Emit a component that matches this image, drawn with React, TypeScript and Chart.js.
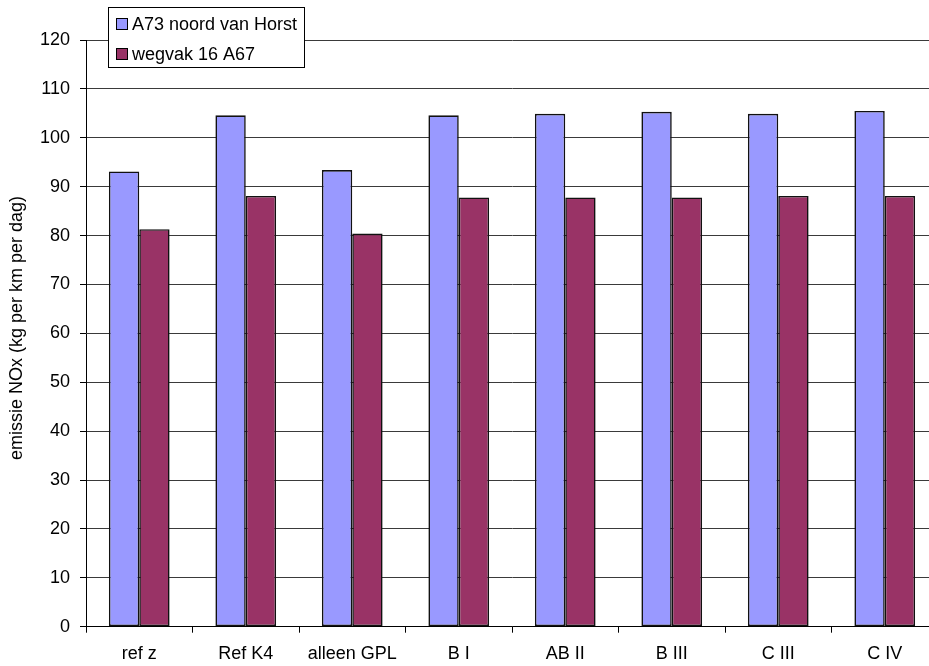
import { useEffect, useRef } from "react";
import { Chart, registerables } from "chart.js";

Chart.register(...registerables);

const FONT = "'Liberation Sans', Arial, sans-serif";

// Scenario names along the x axis
const categories = ["ref z", "Ref K4", "alleen GPL", "B I", "AB II", "B III", "C III", "C IV"];

// Series names and colours
const seriesNames = ["A73 noord van Horst", "wegvak 16 A67"];
const seriesColors = ["#9999FF", "#993366"];

// NOx emission per road section (kg per km per day)
const a73Values = [93.1, 104.6, 93.4, 104.6, 104.9, 105.3, 104.9, 105.5];
const wegvakValues = [81.3, 88.1, 80.4, 87.8, 87.8, 87.8, 88.1, 88.1];

// Value axis
const yMin = 0;
const yMax = 120;
const yStep = 10;
const yAxisTitle = "emissie NOx (kg per km per dag)";

// Draws the rotated axis title and the framed legend box over the plot
const framePlugin = {
  id: "framedLegend",
  afterDraw(chart: any) {
    const ctx: CanvasRenderingContext2D = chart.ctx;

    ctx.save();
    ctx.font = `18px ${FONT}`;
    ctx.fillStyle = "#000";
    ctx.translate(17, 328);
    ctx.rotate(-Math.PI / 2);
    ctx.textAlign = "center";
    ctx.textBaseline = "middle";
    ctx.fillText(yAxisTitle, 0, 0);
    ctx.restore();

    ctx.save();
    ctx.fillStyle = "#fff";
    ctx.fillRect(108.5, 7.5, 196, 60);
    ctx.strokeStyle = "#000";
    ctx.lineWidth = 1;
    ctx.strokeRect(108.5, 7.5, 196, 60);
    ctx.font = `18px ${FONT}`;
    chart.data.datasets.forEach((ds: any, i: number) => {
      const cy = 24 + i * 30;
      ctx.fillStyle = ds.backgroundColor;
      ctx.fillRect(116.5, cy - 5.5, 11, 11);
      ctx.strokeRect(116.5, cy - 5.5, 11, 11);
      ctx.fillStyle = "#000";
      ctx.textAlign = "left";
      ctx.textBaseline = "middle";
      ctx.fillText(ds.label, 132, cy + 1);
    });
    ctx.restore();
  },
};

export default function App() {
  const canvasRef = useRef<HTMLCanvasElement | null>(null);

  useEffect(() => {
    if (!canvasRef.current) return;
    Chart.defaults.font.family = FONT;
    const chart = new Chart(canvasRef.current, {
      type: "bar",
      data: {
        labels: categories,
        datasets: [
          {
            label: seriesNames[0],
            data: a73Values,
            backgroundColor: seriesColors[0],
            borderColor: "#111",
            borderWidth: 1.6,
            borderSkipped: false,
            categoryPercentage: 0.57,
            barPercentage: 1,
          },
          {
            label: seriesNames[1],
            data: wegvakValues,
            backgroundColor: seriesColors[1],
            borderColor: "#111",
            borderWidth: 1.6,
            borderSkipped: false,
            categoryPercentage: 0.57,
            barPercentage: 1,
          },
        ],
      },
      options: {
        responsive: false,
        devicePixelRatio: 1,
        animation: false,
        layout: { padding: { top: 40, right: 7, left: 0, bottom: 0 } },
        plugins: {
          legend: { display: false },
          tooltip: { enabled: false },
          title: { display: false },
        },
        scales: {
          x: {
            grid: {
              drawOnChartArea: false,
              drawTicks: true,
              tickLength: 6,
              tickColor: "#000",
              offset: true,
            },
            border: { color: "#000" },
            ticks: {
              color: "#000",
              font: { size: 18, family: FONT },
              padding: 11,
              maxRotation: 0,
              autoSkip: false,
            },
            afterFit: (s: any) => {
              s.height = 39.3;
            },
          },
          y: {
            min: yMin,
            max: yMax,
            ticks: {
              stepSize: yStep,
              color: "#000",
              font: { size: 18, family: FONT },
              padding: 10,
            },
            grid: { color: "#3a3a3a", tickColor: "#000", tickLength: 6 },
            border: { color: "#000" },
            afterFit: (s: any) => {
              s.width = 86;
            },
          },
        },
      },
      plugins: [framePlugin],
    });
    return () => chart.destroy();
  }, []);

  return (
    <div
      style={{
        position: "fixed",
        left: 0,
        top: 0,
        width: 929,
        height: 666,
        overflow: "hidden",
        background: "#fff",
      }}
    >
      <canvas ref={canvasRef} width={945} height={666} style={{ display: "block" }} />
    </div>
  );
}
